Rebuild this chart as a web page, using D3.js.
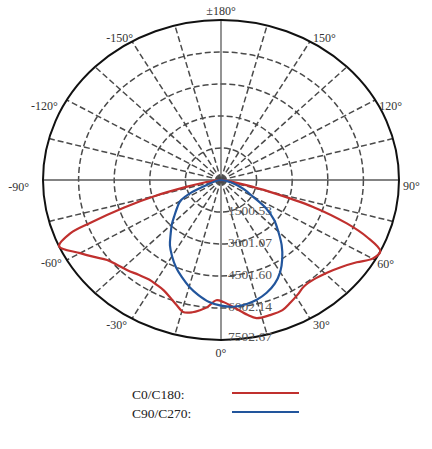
<!DOCTYPE html>
<html>
<head>
<meta charset="utf-8">
<script src="https://cdn.jsdelivr.net/npm/d3@7"></script>
<style>
    html, body { margin: 0; padding: 0; background: #fff; }
    svg { display: block; }
</style>
</head>
<body>
<svg id="chart" width="432" height="449"></svg>
<script>
// intensity rings (cd) and angle labels
var ringValues = [ 1500.53, 3001.07, 4501.60, 6002.14, 7502.67 ];
var ringLabels = [ '1500.53', '3001.07', '4501.60', '6002.14', '7502.67' ];
var angleTicks = [ 0, 30, 60, 90, 120, 150, 180, -150, -120, -90, -60, -30 ];
var angleLabels = [ '0°', '30°', '60°', '90°', '120°', '150°', '±180°', '-150°', '-120°', '-90°', '-60°', '-30°' ];

// C0/C180 plane
var redGamma = [ -90, -85, -80, -77.5, -75, -72.5, -70, -68.5, -65.5, -60, -56, -52, -48, -43, -38, -33, -29, -25, -21, -17.5, -14.5, -11, -8, -5.5, -2, 1, 5, 10, 13, 18, 23, 27, 31, 35, 40, 46, 51, 56, 60, 63.5, 66.5, 69, 72, 75, 77.5, 80, 85, 90 ];
var redCd = [ 0, 250, 800, 1500, 2851, 4277, 5852, 6827, 7502, 6857, 6452, 6092, 5927, 5784, 5642, 5567, 5612, 5709, 5927, 6167, 6392, 6317, 6152, 5987, 5642, 5724, 5980, 6422, 6647, 6662, 6632, 6452, 6272, 6092, 6085, 6242, 6497, 6902, 7375, 7502, 6707, 5680, 4081, 2100, 1000, 450, 120, 0 ];

// C90/C270 plane
var blueGamma = [ -90, -80, -70, -65, -60, -55, -50, -45, -40, -35, -30, -25, -20, -15, -10, -5, 0, 5, 10, 15, 20, 25, 30, 35, 40, 45, 50, 55, 60, 65, 70, 75, 80, 90 ];
var blueCd = [ 0, 150, 525, 1350, 1988, 2251, 2551, 2926, 3301, 3751, 4126, 4502, 4839, 5177, 5477, 5740, 5890, 5965, 5927, 5814, 5627, 5364, 4989, 4502, 3976, 3414, 2926, 2326, 1538, 1125, 750, 450, 225, 0 ];

var series = [
    { name: 'C0/C180:', gamma: redGamma, cd: redCd, color: '#c0302e' },
    { name: 'C90/C270:', gamma: blueGamma, cd: blueCd, color: '#22559c' }
];

var cx = 221, cy = 180, rx = 178, ry = 160,
    serif = '"Liberation Serif", "DejaVu Serif", serif';

var svg = d3.select( '#chart' );

var r = d3.scaleLinear().domain( [ 0, 7502.67 ] ).range( [ 0, 1 ] ),
    x = d3.scaleLinear().domain( [ -1, 1 ] ).range( [ cx - rx, cx + rx ] ),
    y = d3.scaleLinear().domain( [ -1, 1 ] ).range( [ cy - ry, cy + ry ] );

// 0 deg points down, positive angles to the right
function px( a, v ) { return x( r( v ) * Math.sin( a * Math.PI / 180 ) ); }
function py( a, v ) { return y( r( v ) * Math.cos( a * Math.PI / 180 ) ); }

var grid = svg.append( 'g' );

// dashed rings
ringValues.slice( 0, -1 ).forEach( function( v ) {
    grid.append( 'ellipse' )
        .attr( 'cx', cx ).attr( 'cy', cy )
        .attr( 'rx', x( r( v ) ) - cx ).attr( 'ry', y( r( v ) ) - cy )
        .attr( 'fill', 'none' )
        .attr( 'stroke', '#4a4a4a' )
        .attr( 'stroke-width', 1.5 )
        .attr( 'stroke-dasharray', '6,3' );
} );

// spokes every 15 deg
d3.range( 0, 360, 15 ).forEach( function( a ) {
    var solid = a % 90 === 0;
    grid.append( 'line' )
        .attr( 'x1', cx ).attr( 'y1', cy )
        .attr( 'x2', px( a, 7502.67 ) ).attr( 'y2', py( a, 7502.67 ) )
        .attr( 'stroke', solid ? '#5a5a5a' : '#4a4a4a' )
        .attr( 'stroke-width', solid ? 1.3 : 1.5 )
        .attr( 'stroke-dasharray', solid ? null : '6,3' );
} );

// outer ring
grid.append( 'ellipse' )
    .attr( 'cx', cx ).attr( 'cy', cy )
    .attr( 'rx', rx ).attr( 'ry', ry )
    .attr( 'fill', 'none' )
    .attr( 'stroke', '#111' )
    .attr( 'stroke-width', 2 );

// ring labels along the 0 deg axis
grid.selectAll( 'text.ring' )
    .data( ringValues )
    .enter().append( 'text' )
    .attr( 'class', 'ring' )
    .attr( 'x', cx + 7 )
    .attr( 'y', function( d, i ) { return py( 0, d ) - ( i === ringValues.length - 1 ? 4 : 2 ); } )
    .attr( 'dy', '0.35em' )
    .attr( 'font-family', serif )
    .attr( 'font-size', 13.5 )
    .attr( 'fill', '#555' )
    .text( function( d, i ) { return ringLabels[ i ]; } );

// angle labels
var labelOffset = {
    '0': [ 0, 13, 'middle' ], '30': [ 3, 6, 'start' ], '60': [ 2, 4, 'start' ],
    '90': [ 4, 6, 'start' ], '120': [ 4, 6, 'start' ], '150': [ 3, -4, 'start' ],
    '180': [ 0, -9, 'middle' ], '-150': [ 1, -4, 'end' ], '-120': [ -9, 6, 'end' ],
    '-90': [ -14, 7, 'end' ], '-60': [ -5, 3, 'end' ], '-30': [ -5, 6, 'end' ]
};

grid.selectAll( 'text.angle' )
    .data( angleTicks )
    .enter().append( 'text' )
    .attr( 'class', 'angle' )
    .attr( 'x', function( d ) { return px( d, 7502.67 ) + labelOffset[ d ][ 0 ]; } )
    .attr( 'y', function( d ) { return py( d, 7502.67 ) + labelOffset[ d ][ 1 ]; } )
    .attr( 'dy', '0.35em' )
    .attr( 'text-anchor', function( d ) { return labelOffset[ d ][ 2 ]; } )
    .attr( 'font-family', serif )
    .attr( 'font-size', 12 )
    .attr( 'fill', '#333' )
    .text( function( d, i ) { return angleLabels[ i ]; } );

// curves
var line = d3.line()
    .x( function( d ) { return px( d[ 0 ], d[ 1 ] ); } )
    .y( function( d ) { return py( d[ 0 ], d[ 1 ] ); } )
    .curve( d3.curveCatmullRom );

series.forEach( function( s ) {
    svg.append( 'path' )
        .datum( d3.zip( s.gamma, s.cd ) )
        .attr( 'd', line )
        .attr( 'fill', 'none' )
        .attr( 'stroke', s.color )
        .attr( 'stroke-width', 2.2 )
        .attr( 'stroke-linejoin', 'round' );
} );

// legend
var legend = svg.append( 'g' );
series.forEach( function( s, i ) {
    var ly = 394 + i * 19;
    legend.append( 'text' )
        .attr( 'x', 132 ).attr( 'y', ly )
        .attr( 'dy', '0.35em' )
        .attr( 'font-family', serif )
        .attr( 'font-size', 13.5 )
        .attr( 'fill', '#222' )
        .text( s.name );
    legend.append( 'line' )
        .attr( 'x1', 232 ).attr( 'x2', 299 )
        .attr( 'y1', ly - 1 ).attr( 'y2', ly - 1 )
        .attr( 'stroke', s.color )
        .attr( 'stroke-width', 2 );
} );
</script>
</body>
</html>
